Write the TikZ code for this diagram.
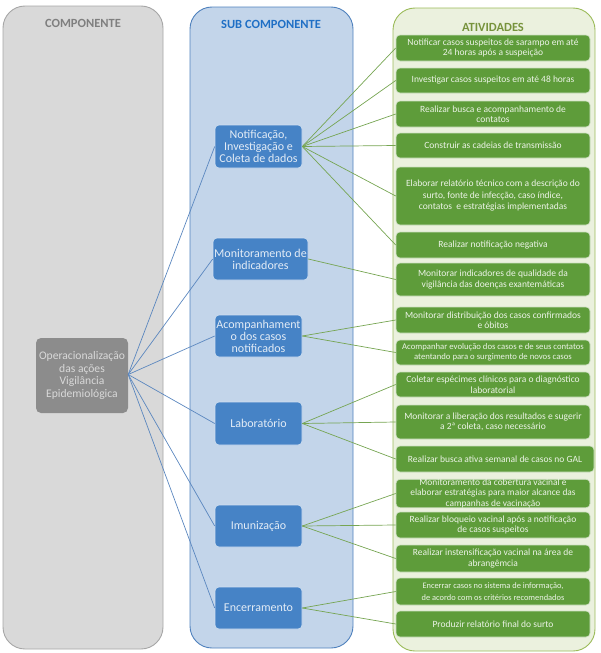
\documentclass[tikz,border=0pt]{standalone}
\usepackage{fontspec}
\setmainfont{Carlito}
\definecolor{panelgray}{HTML}{D9D9D9}
\definecolor{panelgrayline}{HTML}{A6A6A6}
\definecolor{panelblue}{HTML}{C3D5EA}
\definecolor{panelblueline}{HTML}{4F81BD}
\definecolor{panelgreen}{HTML}{EBF1DE}
\definecolor{panelgreenline}{HTML}{9BBB59}
\definecolor{boxgray}{HTML}{8C8C8C}
\definecolor{boxblue}{HTML}{4683C6}
\definecolor{boxgreen}{HTML}{5E9C3A}
\definecolor{linkblue}{HTML}{5B87BF}
\definecolor{linkgreen}{HTML}{76A552}
\definecolor{headgray}{HTML}{7F7F7F}
\definecolor{headblue}{HTML}{1F6FC5}
\definecolor{headgreen}{HTML}{77933C}
\tikzset{
  panel/.style={rounded corners=22pt, line width=0.9pt},
  head/.style={font=\fontsize{12.5}{14}\selectfont\bfseries, inner sep=0pt},
  graybox/.style={fill=boxgray, rounded corners=5pt, text=white!85!black, align=center,
    font=\fontsize{11.6}{12.8}\selectfont, inner sep=0pt, minimum width=92pt, minimum height=75pt},
  bluebox/.style={fill=boxblue, draw=white!75!boxblue, line width=0.6pt, rounded corners=4pt, text=white!85!boxblue, align=center,
    font=\fontsize{12}{12}\selectfont, inner sep=0pt, minimum width=87pt},
  greenbox/.style={fill=boxgreen, draw=white!70!boxgreen, line width=0.6pt, rounded corners=4pt, text=white!88!boxgreen, align=center,
    font=\fontsize{9.5}{10.5}\selectfont, inner sep=0pt, minimum width=194pt},
  bluelink/.style={draw=linkblue, line width=0.7pt},
  greenlink/.style={draw=linkgreen, line width=0.7pt}
}
\begin{document}
\begin{tikzpicture}[x=1pt,y=-1pt]
\useasboundingbox (0,0) rectangle (601,653);
% panels
\draw[panel, fill=panelgray, draw=panelgrayline] (3,6) rectangle (163,649);
\draw[panel, fill=panelblue, draw=panelblueline] (190,7) rectangle (353,648);
\draw[panel, fill=panelgreen, draw=panelgreenline] (393,8) rectangle (595,651);
\node[head, text=headgray] (h1) at (83,23) {COMPONENTE};
\node[head, text=headblue] (h2) at (271,24) {SUB COMPONENTE};
\node[head, text=headgreen] (h3) at (493,27) {ATIVIDADES};
% component
\node[graybox] (c) at (82,375.5) {Operacionalização\\das ações\\Vigilância\\Epidemiológica};
% sub components
\node[bluebox, minimum height=43pt] (s1) at (258.5,146.5) {Notificação,\\Investigação e\\Coleta de dados};
\node[bluebox, minimum height=42pt, minimum width=95pt] (s2) at (260.5,259) {Monitoramento de\\indicadores};
\node[bluebox, minimum height=42pt] (s3) at (258.5,336) {Acompanhament\\o dos casos\\notificados};
\node[bluebox, minimum height=43pt] (s4) at (258.5,423.5) {Laboratório};
\node[bluebox, minimum height=42pt] (s5) at (258.5,526) {Imunização};
\node[bluebox, minimum height=42pt] (s6) at (258.5,608) {Encerramento};
% activities
\node[greenbox, minimum height=26pt] (a1) at (493,48) {Notificar casos suspeitos de sarampo em até\\24 horas após a suspeição};
\node[greenbox, minimum height=25pt] (a2) at (493,80.5) {Investigar casos suspeitos em até 48 horas};
\node[greenbox, minimum height=26pt] (a3) at (493,114) {Realizar busca e acompanhamento de\\contatos};
\node[greenbox, minimum height=25pt] (a4) at (493,145.5) {Construir as cadeias de transmissão};
\node[greenbox, minimum height=58pt, font=\fontsize{9.5}{11.5}\selectfont] (a5) at (493,196) {Elaborar relatório técnico com a descrição do\\surto, fonte de infecção, caso índice,\\contatos \ e estratégias implementadas};
\node[greenbox, minimum height=26pt] (a6) at (493,245) {Realizar notificação negativa};
\node[greenbox, minimum height=33pt] (a7) at (493,279.5) {Monitorar indicadores de qualidade da\\vigilância das doenças exantemáticas};
\node[greenbox, minimum height=26pt] (a8) at (493,320) {Monitorar distribuição dos casos confirmados\\e óbitos};
\node[greenbox, minimum height=25pt, font=\fontsize{8.7}{10}\selectfont] (a9) at (493,352.5) {Acompanhar evolução dos casos e de seus contatos\\atentando para o surgimento de novos casos};
\node[greenbox, minimum height=25pt] (a10) at (493,384.5) {Coletar espécimes clínicos para o diagnóstico\\laboratorial};
\node[greenbox, minimum height=34pt] (a11) at (493,422) {Monitorar a liberação dos resultados e sugerir\\a 2ª coleta, caso necessário};
\node[greenbox, minimum height=26pt, minimum width=198pt] (a12) at (495,459) {Realizar busca ativa semanal de casos no GAL};
\node[greenbox, minimum height=27pt, font=\fontsize{9.4}{10.2}\selectfont] (a13) at (493,493.5) {Monitoramento da cobertura vacinal e\\elaborar estratégias para maior alcance das\\campanhas de vacinação};
\node[greenbox, minimum height=26pt] (a14) at (493,525) {Realizar bloqueio vacinal após a notificação\\de casos suspeitos};
\node[greenbox, minimum height=27pt] (a15) at (493,558.5) {Realizar instensificação vacinal na área de\\abrangêmcia};
\node[greenbox, minimum height=27pt, font=\fontsize{8.4}{11.5}\selectfont] (a16) at (493,591.5) {Encerrar casos no sistema de informação,\\de acordo com os critérios recomendados};
\node[greenbox, minimum height=26pt] (a17) at (493,624) {Produzir relatório final do surto};
% links component -> sub components
\coordinate (hub) at ([yshift=1pt]c.east);
\foreach \s in {s1,s2,s3,s4,s5,s6}{\draw[bluelink] (hub) -- (\s.west);}
% links sub components -> activities
\foreach \a in {a1,a2,a3,a4,a5,a6}{\draw[greenlink] (s1.east) -- (\a.west);}
\draw[greenlink] (s2.east) -- (a7.west);
\foreach \a in {a8,a9}{\draw[greenlink] (s3.east) -- (\a.west);}
\foreach \a in {a10,a11,a12}{\draw[greenlink] (s4.east) -- (\a.west);}
\foreach \a in {a13,a14,a15}{\draw[greenlink] (s5.east) -- (\a.west);}
\foreach \a in {a16,a17}{\draw[greenlink] (s6.east) -- (\a.west);}
\end{tikzpicture}
\end{document}
